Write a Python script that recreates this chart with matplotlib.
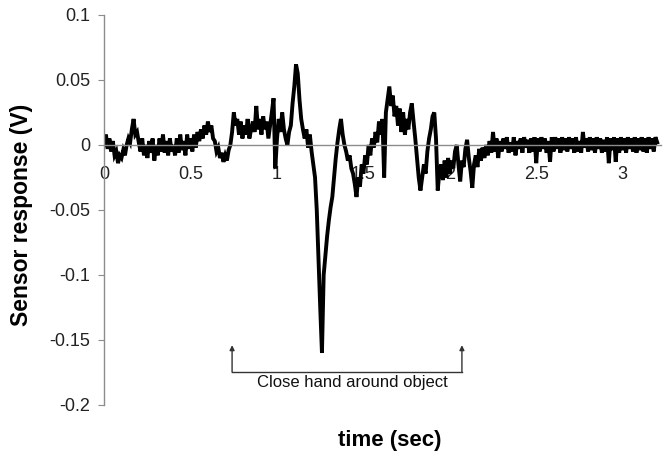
import numpy as np
import matplotlib.pyplot as plt

plt.rcParams['font.family'] = ['Liberation Sans', 'DejaVu Sans']

# sensor trace, mV, sampled every 0.01 s from 0 to 3.20 s
response_mv = [
    0, 8, -3, 5, -5, 3, -8, -5, -14, -8,
    -10, -4, -8, 0, 5, 2, 12, 20, 8, 10,
    2, -5, 5, -8, 0, -10, 3, -6, 5, -12,
    0, -8, 5, -5, 8, -6, 3, -8, 5, -5,
    0, -8, 5, -6, 8, -4, 3, -8, 8, -3,
    5, -5, 8, -2, 10, 3, 12, 5, 15, 8,
    18, 10, 15, 5, 3, -5, -2, -10, -6, -13,
    -8, -12, -4, 0, 10, 25, 15, 20, 8, 18,
    5, 15, 8, 20, 5, 12, 18, 10, 30, 12,
    20, 8, 22, 12, 18, 5, 15, 25, 36, -18,
    5, 20, 10, 25, 12, 5, 0, 10, 15, 32,
    45, 62, 55, 35, 20, 12, 5, 12, -2, 8,
    -5, -15, -25, -50, -88, -125, -160, -100, -85, -70,
    -58, -48, -40, -25, -10, 2, 12, 20, 8, 0,
    -5, -12, -8, -18, -22, -30, -40, -25, -32, -15,
    -22, -8, -15, 0, -8, 5, -2, 10, 2, 18,
    8, 20, -25, 25, 35, 45, 30, 38, 22, 30,
    15, 28, 10, 25, 8, 20, 12, 25, 32, 18,
    5, -10, -25, -35, -25, -15, -22, -5, 5, 12,
    22, 25, 5, -35, -20, -15, -27, -12, -25, -10,
    -22, -12, -18, -5, 0, -15, -28, -12, -17, -3,
    4, -10, -20, -33, -15, -8, -17, -3, -12, -2,
    -10, 0, -8, 3, -6, 10, -5, 5, -10, 3,
    -5, 5, -3, 6, -6, 2, -5, 6, -8, 3,
    -3, 5, -6, 6, -2, 4, -6, 5, -5, 6,
    -14, 5, -5, 6, -3, 5, -6, 3, -13, 6,
    -5, 6, -3, 5, -6, 6, -4, 5, -5, 6,
    -3, 5, -6, 6, -5, 3, -6, 10, -2, 5,
    -5, 6, -4, 5, -6, 6, -3, 5, -6, 4,
    -5, 6, -14, 5, -4, 6, -13, 5, -6, 6,
    -4, 5, -6, 6, -3, 5, -5, 6, -6, 5,
    -4, 6, -5, 5, -6, 6, -3, 5, -5, 6,
    2,
]
time_s = np.arange(len(response_mv)) * 0.01
response_v = np.array(response_mv) / 1000.0

x_ticks = [0, 0.5, 1, 1.5, 2, 2.5, 3]
x_tick_labels = ['0', '0.5', '1', '1.5', '2', '2.5', '3']
y_ticks = [-0.2, -0.15, -0.1, -0.05, 0, 0.05, 0.1]
y_tick_labels = ['-0.2', '-0.15', '-0.1', '-0.05', '0', '0.05', '0.1']

# grasp window marked below the trace
grasp_start, grasp_end = 0.74, 2.07

fig = plt.figure(figsize=(6.68, 4.54), dpi=100)
ax = fig.add_axes([0.156, 0.108, 0.833, 0.859])

ax.plot(time_s, response_v, color='black', lw=2.8, solid_joinstyle='miter')

ax.set_xlim(0, 3.22)
ax.set_ylim(-0.2, 0.1)

ax.spines['top'].set_visible(False)
ax.spines['right'].set_visible(False)
ax.spines['bottom'].set_position(('data', 0))
for s in ['left', 'bottom']:
    ax.spines[s].set_color('#8c8c8c')
    ax.spines[s].set_linewidth(1)

ax.set_xticks(x_ticks)
ax.set_xticklabels(x_tick_labels)
ax.set_yticks(y_ticks)
ax.set_yticklabels(y_tick_labels)
ax.tick_params(axis='x', length=0, pad=15, labelsize=13, labelcolor='#222222')
ax.tick_params(axis='y', length=4, color='#8c8c8c', pad=6, labelsize=13, labelcolor='#222222')

ax.set_xlabel('time (sec)', fontsize=16, fontweight='bold')
ax.xaxis.set_label_coords(0.513, -0.064)
ax.set_ylabel('Sensor response (V)', fontsize=16.5, fontweight='bold')
ax.yaxis.set_label_coords(-0.128, 0.487)

# bracket with arrows
yb, ya = -0.1746, -0.154
ax.plot([grasp_start, grasp_end], [yb, yb], color='#333333', lw=1)
for gx in [grasp_start, grasp_end]:
    ax.annotate('', xy=(gx, ya), xytext=(gx, yb),
                arrowprops=dict(arrowstyle='-|>', color='#333333', lw=1,
                                mutation_scale=7, shrinkA=0, shrinkB=0))
ax.text(1.435, -0.183, 'Close hand around object',
        ha='center', va='center', fontsize=12, color='#111111')

fig.savefig('out.png', dpi=100)
